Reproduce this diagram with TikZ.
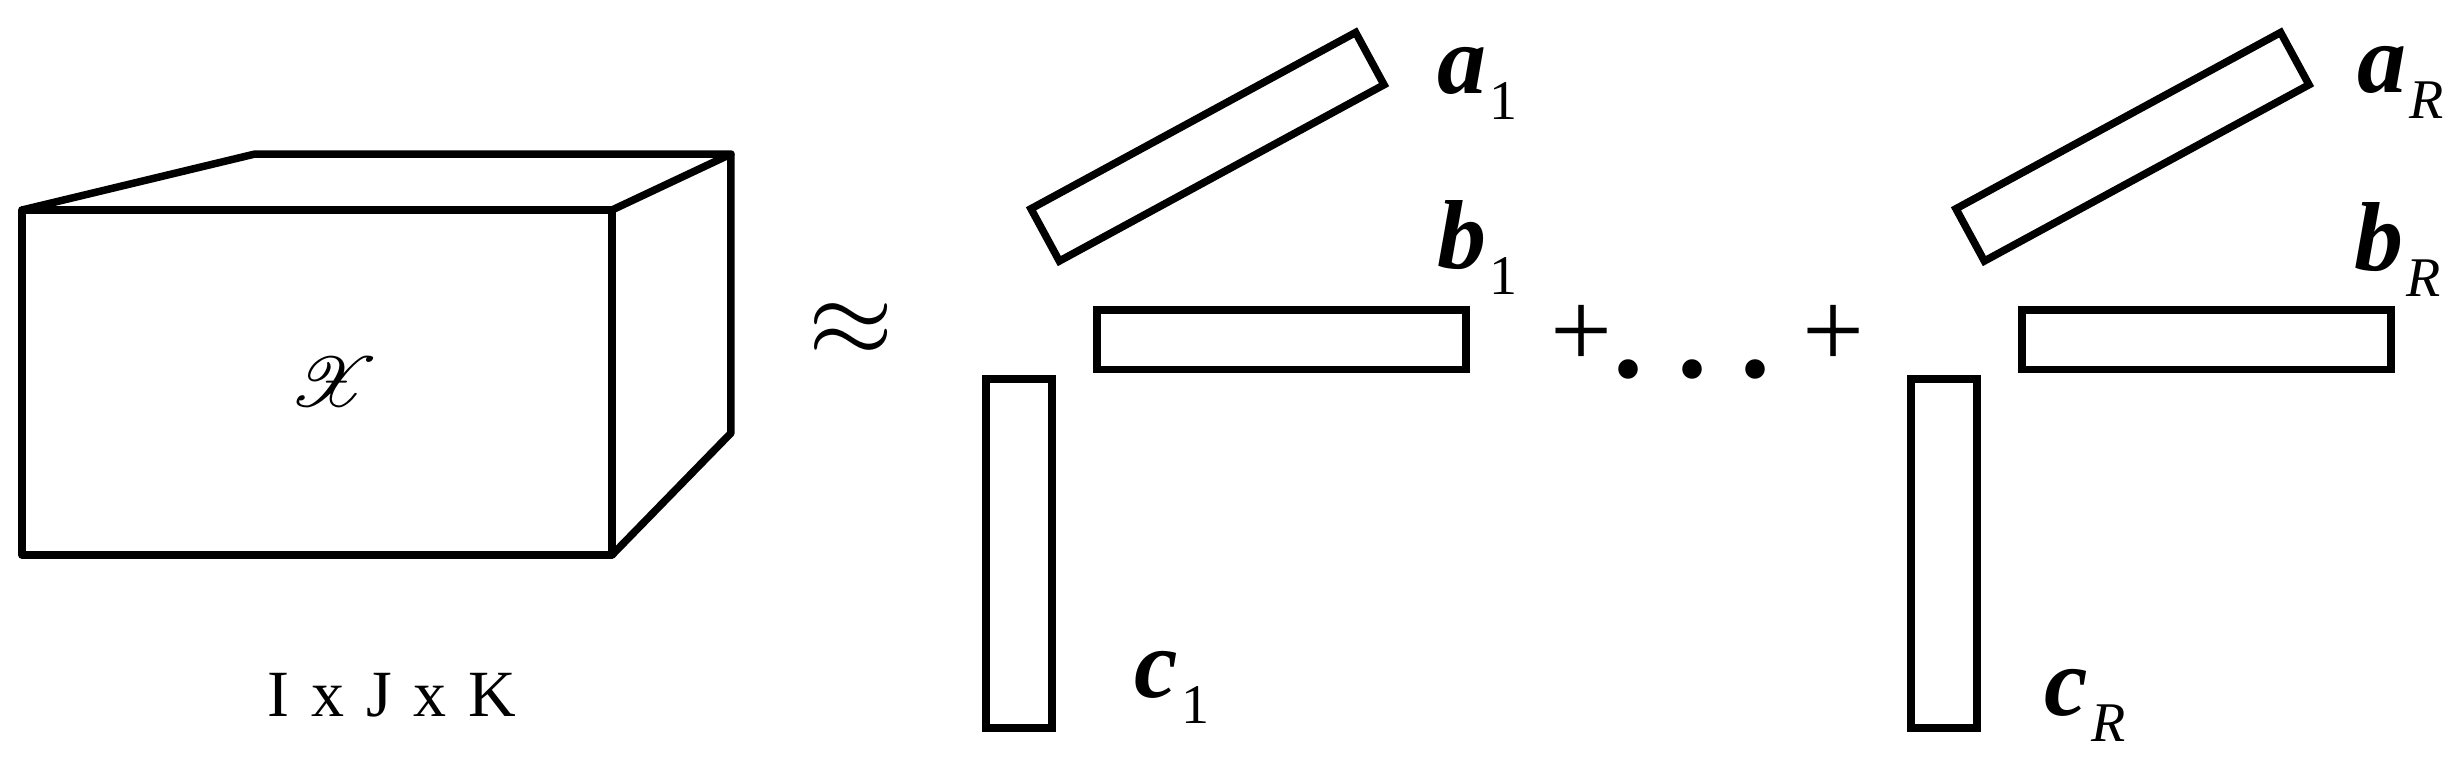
\documentclass[tikz,border=0pt]{standalone}
\usepackage{amsmath,amssymb}
\usepackage{mathrsfs}
\usepackage{fontspec}
\setmainfont{Liberation Serif}
\usetikzlibrary{positioning}

\tikzset{
  Edge/.style={line width=0.75pt, line join=round},
  Bar/.style={draw, Edge, line join=miter, rectangle, inner sep=0pt},
  BarH/.style={Bar, minimum width=36.95pt, minimum height=5.95pt},
  BarV/.style={Bar, minimum width=6.65pt, minimum height=34.95pt},
  FactorLabel/.style={anchor=base west, inner sep=0pt},
  Sym/.style={inner sep=0pt, font=\fontsize{11}{11}\selectfont}
}
\newcommand{\vlab}[2]{{\fontsize{9.8}{10}\selectfont\bfseries\itshape #1}\kern0.3pt\raisebox{-2.6pt}{\fontsize{5.6}{6}\selectfont #2}}

\begin{document}
\begin{tikzpicture}[x=0.1pt, y=-0.1pt]
\useasboundingbox (0,0) rectangle (2458,765);
% the tensor
\coordinate (fTL) at (22,210);
\coordinate (fTR) at (612,210);
\coordinate (fBR) at (612,555);
\coordinate (fBL) at (22,555);
\coordinate (bTL) at (255,154);
\coordinate (bTR) at (731,154);
\coordinate (bBR) at (731,433);
\draw[Edge] (fTL) -- (fTR) -- (fBR) -- (fBL) -- cycle;
\draw[Edge] (fTL) -- (bTL) -- (bTR) -- (fTR);
\draw[Edge] (bTR) -- (bBR) -- (fBR);
\node[inner sep=0pt, font=\fontsize{7}{7}\selectfont] (X) at (334,382) {$\mathscr{X}$};
\node[inner sep=0pt, font=\fontsize{6.6}{7}\selectfont] (dims) at (392,695) {I\,\,x\,\,J\,\,x\,\,K};

\node[Sym] (approx) at (851,330) {$\approx$};

% first rank-one term
\node[BarH, rotate=28.5] (a1) at (1207.5,146.75) {};
\node[BarH] (b1) at (1281.5,339.5) {};
\node[BarV] (c1) at (1019,553.5) {};
\node[FactorLabel] (la1) at (1435,93) {\vlab{a}{1}};
\node[FactorLabel] (lb1) at (1435,268) {\vlab{b}{1}};
\node[FactorLabel] (lc1) at (1133,697) {\vlab{c}{1}};

% plus dots plus
\node[Sym] (plusA) at (1582,336) {+};
\node[Sym, font=\fontsize{12}{12}\selectfont\bfseries] (dotA) at (1629,369) {.};
\node[Sym, font=\fontsize{12}{12}\selectfont\bfseries] (dotB) at (1692,369) {.};
\node[Sym, font=\fontsize{12}{12}\selectfont\bfseries] (dotC) at (1755,369) {.};
\node[Sym] (plusB) at (1834,336) {+};

% last rank-one term
\node[BarH, rotate=28.5] (aR) at (2132.5,146.75) {};
\node[BarH] (bR) at (2206.5,339.5) {};
\node[BarV] (cR) at (1944,553.5) {};
\node[FactorLabel] (laR) at (2355,92) {\vlab{a}{\itshape R}};
\node[FactorLabel] (lbR) at (2353,270) {\vlab{b}{\itshape R}};
\node[FactorLabel] (lcR) at (2043,715) {\vlab{c}{\itshape R}};
\end{tikzpicture}
\end{document}
